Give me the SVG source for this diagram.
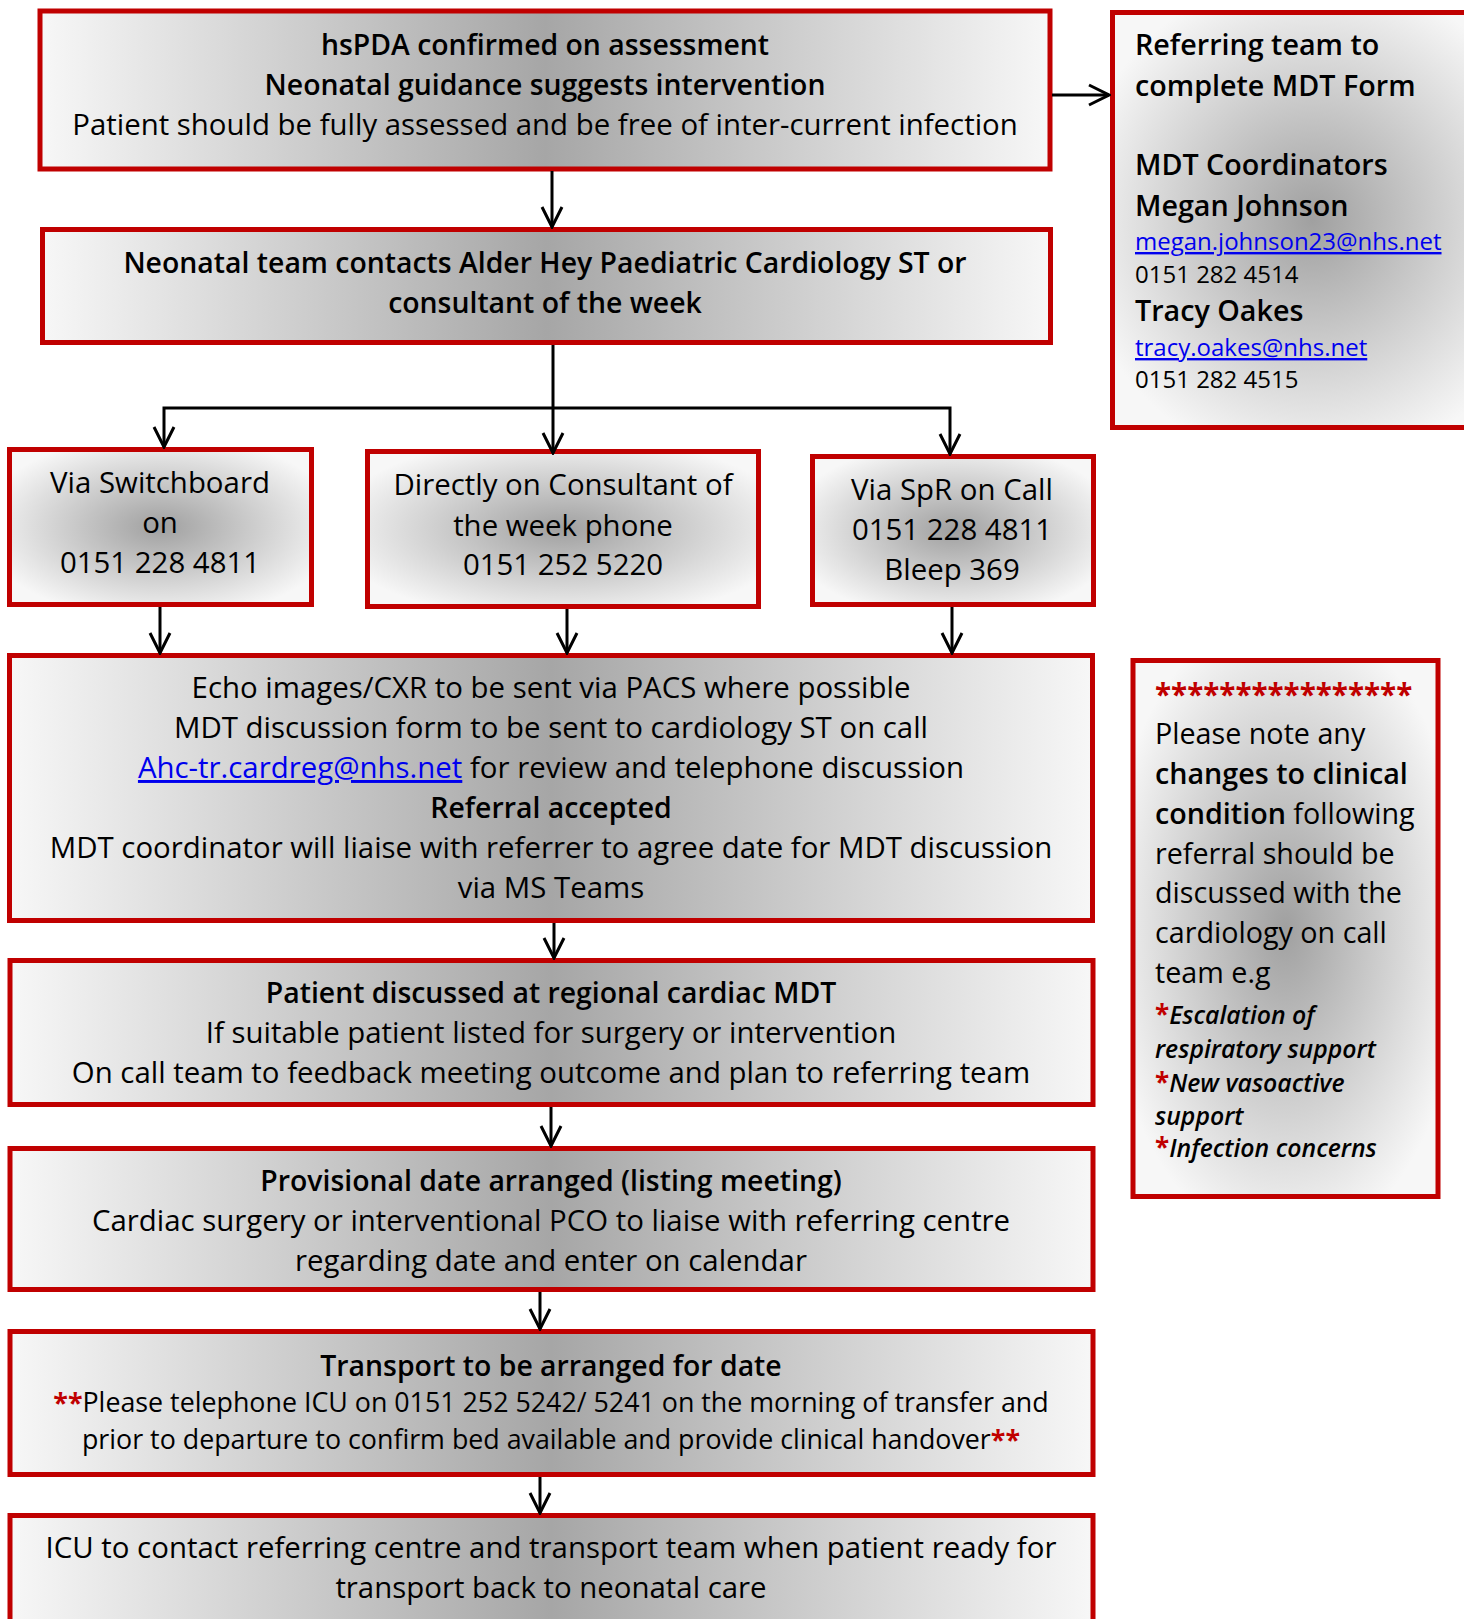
<svg xmlns="http://www.w3.org/2000/svg" width="1464" height="1619" viewBox="0 0 1464 1619">
<style>
text{font-family:"Open Sans","Noto Sans","Liberation Sans",sans-serif;fill:#000;}
.t{font-size:29.4px;text-anchor:middle;}
.b{font-weight:600;}
.t.b{font-size:28.4px;}
.box{stroke:#c00000;stroke-width:5;}
.lin{fill:url(#gh);}
.rad{fill:url(#gr);}
.link{fill:#0000ee;text-decoration:underline;}
.red{fill:#c00000;font-weight:700;}
.con line,.con path{stroke:#000;stroke-width:3;fill:none;}
.l{font-size:28.7px;}
.s{font-size:24px;}
.it{font-size:24.8px;font-style:italic;font-weight:600;}
.st{fill:#c00000;font-weight:700;font-style:normal;font-size:26px;}
</style>
<defs>
<linearGradient id="gh" x1="0" y1="0" x2="1" y2="0">
<stop offset="0" stop-color="#f7f7f7"/>
<stop offset="0.5" stop-color="#a6a6a6"/>
<stop offset="1" stop-color="#f7f7f7"/>
</linearGradient>
<radialGradient id="gr" cx="0.5" cy="0.5" r="0.6">
<stop offset="0" stop-color="#a0a0a0"/>
<stop offset="1" stop-color="#f7f7f7"/>
</radialGradient>
<marker id="ah" markerUnits="userSpaceOnUse" viewBox="-22 -12 24 24" markerWidth="24" markerHeight="24" refX="0" refY="0" orient="auto">
<path d="M-20,-10 L0,0 L-20,10" fill="none" stroke="#000" stroke-width="3"/>
</marker>
</defs>

<g id="n-top">
<rect class="box lin" x="40" y="11" width="1010" height="158"/>
<text class="t b" x="545" y="55">hsPDA confirmed on assessment</text>
<text class="t b" x="545" y="95">Neonatal guidance suggests intervention</text>
<text class="t" x="545" y="135">Patient should be fully assessed and be free of inter-current infection</text>
</g>

<g id="n-refer">
<rect class="box rad" x="1112.5" y="12.5" width="400" height="415"/>
<text class="l b" x="1135" y="55">Referring team to</text>
<text class="l b" x="1135" y="96">complete MDT Form</text>
<text class="l b" x="1135" y="175">MDT Coordinators</text>
<text class="l b" x="1135" y="216">Megan Johnson</text>
<text class="s link" x="1135" y="250">megan.johnson23@nhs.net</text>
<text class="s" x="1135" y="283">0151 282 4514</text>
<text class="l b" x="1135" y="321">Tracy Oakes</text>
<text class="s link" x="1135" y="356">tracy.oakes@nhs.net</text>
<text class="s" x="1135" y="388">0151 282 4515</text>
</g>

<g id="n-contact">
<rect class="box lin" x="42.5" y="229.5" width="1008" height="113"/>
<text class="t b" x="545" y="273">Neonatal team contacts Alder Hey Paediatric Cardiology ST or</text>
<text class="t b" x="545" y="313">consultant of the week</text>
</g>

<g id="n-switch">
<rect class="box rad" x="9.5" y="449.5" width="302" height="155"/>
<text class="t" x="160" y="493">Via Switchboard</text>
<text class="t" x="160" y="533">on</text>
<text class="t" x="160" y="573">0151 228 4811</text>
</g>

<g id="n-direct">
<rect class="box rad" x="367.5" y="451.5" width="391" height="155"/>
<text class="t" x="563" y="495">Directly on Consultant of</text>
<text class="t" x="563" y="536">the week phone</text>
<text class="t" x="563" y="575">0151 252 5220</text>
</g>

<g id="n-spr">
<rect class="box rad" x="812.5" y="456.5" width="281" height="148"/>
<text class="t" x="952" y="500">Via SpR on Call</text>
<text class="t" x="952" y="540">0151 228 4811</text>
<text class="t" x="952" y="580">Bleep 369</text>
</g>

<g id="n-echo">
<rect class="box lin" x="9.5" y="655.5" width="1083" height="265"/>
<text class="t" x="551" y="698">Echo images/CXR to be sent via PACS where possible</text>
<text class="t" x="551" y="738">MDT discussion form to be sent to cardiology ST on call</text>
<text class="t" x="551" y="778"><tspan class="link">Ahc-tr.cardreg@nhs.net</tspan> for review and telephone discussion</text>
<text class="t b" x="551" y="818">Referral accepted</text>
<text class="t" x="551" y="858">MDT coordinator will liaise with referrer to agree date for MDT discussion</text>
<text class="t" x="551" y="898">via MS Teams</text>
</g>

<g id="n-mdt">
<rect class="box lin" x="10" y="960.5" width="1083" height="144"/>
<text class="t b" x="551" y="1003">Patient discussed at regional cardiac MDT</text>
<text class="t" x="551" y="1043">If suitable patient listed for surgery or intervention</text>
<text class="t" x="551" y="1083">On call team to feedback meeting outcome and plan to referring team</text>
</g>

<g id="n-prov">
<rect class="box lin" x="10" y="1148.5" width="1083" height="141"/>
<text class="t b" x="551" y="1191">Provisional date arranged (listing meeting)</text>
<text class="t" x="551" y="1231">Cardiac surgery or interventional PCO to liaise with referring centre</text>
<text class="t" x="551" y="1271">regarding date and enter on calendar</text>
</g>

<g id="n-transport">
<rect class="box lin" x="10" y="1331.5" width="1083" height="143"/>
<text class="t b" x="551" y="1376">Transport to be arranged for date</text>
<text class="t" x="551" y="1412" style="font-size:26.8px"><tspan class="red">**</tspan>Please telephone ICU on 0151 252 5242/ 5241 on the morning of transfer and</text>
<text class="t" x="551" y="1449" style="font-size:26.8px">prior to departure to confirm bed available and provide clinical handover<tspan class="red">**</tspan></text>
</g>

<g id="n-icu">
<rect class="box lin" x="10" y="1515.5" width="1083" height="200"/>
<text class="t" x="551" y="1558">ICU to contact referring centre and transport team when patient ready for</text>
<text class="t" x="551" y="1598">transport back to neonatal care</text>
</g>

<g id="n-note">
<rect class="box rad" x="1133" y="660.5" width="305" height="536"/>
<text class="red" x="1155" y="705" style="font-size:29.5px">****************</text>
<text class="l" x="1155" y="744">Please note any</text>
<text class="l b" x="1155" y="784">changes to clinical</text>
<text class="l" x="1155" y="824"><tspan class="b">condition</tspan> following</text>
<text class="l" x="1155" y="864">referral should be</text>
<text class="l" x="1155" y="903">discussed with the</text>
<text class="l" x="1155" y="943">cardiology on call</text>
<text class="l" x="1155" y="983">team e.g</text>
<text class="it" x="1155" y="1024"><tspan class="st">*</tspan>Escalation of</text>
<text class="it" x="1155" y="1058">respiratory support</text>
<text class="it" x="1155" y="1092"><tspan class="st">*</tspan>New vasoactive</text>
<text class="it" x="1155" y="1125">support</text>
<text class="it" x="1155" y="1157"><tspan class="st">*</tspan>Infection concerns</text>
</g>

<g id="connectors" class="con">
<line x1="552" y1="171" x2="552" y2="227" marker-end="url(#ah)"/>
<line x1="1052" y1="95" x2="1109" y2="95" marker-end="url(#ah)"/>
<line x1="553" y1="345" x2="553" y2="453" marker-end="url(#ah)"/>
<path d="M164,420 L164,408 L950,408 L950,420"/>
<line x1="164" y1="420" x2="164" y2="447" marker-end="url(#ah)"/>
<line x1="950" y1="420" x2="950" y2="454" marker-end="url(#ah)"/>
<line x1="160" y1="607" x2="160" y2="653" marker-end="url(#ah)"/>
<line x1="567" y1="609" x2="567" y2="653" marker-end="url(#ah)"/>
<line x1="952" y1="607" x2="952" y2="653" marker-end="url(#ah)"/>
<line x1="554" y1="923" x2="554" y2="958" marker-end="url(#ah)"/>
<line x1="551" y1="1107" x2="551" y2="1146" marker-end="url(#ah)"/>
<line x1="540" y1="1292" x2="540" y2="1329" marker-end="url(#ah)"/>
<line x1="540" y1="1477" x2="540" y2="1513" marker-end="url(#ah)"/>
</g>
</svg>
